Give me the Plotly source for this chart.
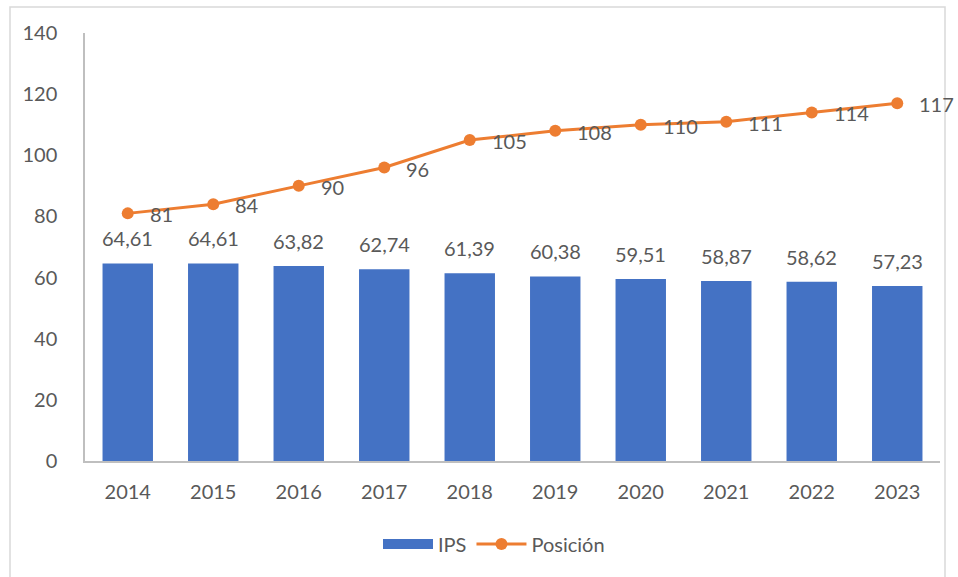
import plotly.graph_objects as go

years = ["2014", "2015", "2016", "2017", "2018", "2019", "2020", "2021", "2022", "2023"]
ips = [64.61, 64.61, 63.82, 62.74, 61.39, 60.38, 59.51, 58.87, 58.62, 57.23]
posicion = [81, 84, 90, 96, 105, 108, 110, 111, 114, 117]
y_ticks = [0, 20, 40, 60, 80, 100, 120, 140]

FONT = "Lato, Open Sans, sans-serif"
GREY = "#595959"
BLUE = "#4472C4"
ORANGE = "#ED7D31"
FS = 20

fig = go.Figure()
fig.add_trace(go.Bar(
    x=years, y=ips, name="IPS", showlegend=False,
    marker=dict(color=BLUE, line=dict(width=0)),
))
# legend proxy giving the wide rectangular swatch for IPS
fig.add_trace(go.Scatter(
    x=[None], y=[None], name="IPS", mode="lines",
    line=dict(color=BLUE, width=12),
))
fig.add_trace(go.Scatter(
    x=years, y=posicion, name="Posición", mode="lines+markers",
    line=dict(color=ORANGE, width=3),
    marker=dict(color=ORANGE, size=12),
    cliponaxis=False,
))

annotations = []
for i, v in enumerate(ips):
    annotations.append(dict(x=i, y=v, xref="x", yref="y",
                            text=f"{v:.2f}".replace(".", ","),
                            showarrow=False, yanchor="middle", xanchor="center",
                            yshift=25, font=dict(size=FS, color=GREY, family=FONT)))
for i, v in enumerate(posicion):
    annotations.append(dict(x=i, y=v, xref="x", yref="y", text=str(v),
                            showarrow=False, yanchor="middle", xanchor="left",
                            xshift=20, yshift=-1,
                            font=dict(size=FS, color=GREY, family=FONT)))

W, H = 958, 577
ml, mr, mt, mb = 85, 18, 33, 116
pw, ph = W - ml - mr, H - mt - mb

def px_x(x):
    return (x - ml) / pw

def px_y(y):
    return (H - mb - y) / ph

fig.update_layout(
    width=W, height=H,
    margin=dict(l=ml, r=mr, t=mt, b=mb),
    paper_bgcolor="white", plot_bgcolor="white",
    bargap=0.41,
    font=dict(family=FONT, color=GREY, size=FS),
    showlegend=True,
    annotations=annotations,
    legend=dict(orientation="h", x=px_x(494), xanchor="center",
                y=px_y(544), yanchor="middle",
                font=dict(size=FS, color=GREY, family=FONT),
                itemwidth=50, traceorder="normal"),
    xaxis=dict(type="category", range=[-0.5, 9.5], showline=True,
               linecolor="#BFBFBF", linewidth=1.5,
               showgrid=False, ticks="", ticklabelstandoff=12,
               tickfont=dict(size=FS, color=GREY)),
    yaxis=dict(range=[0, 140], tickvals=y_ticks, showline=True,
               linecolor="#BFBFBF", linewidth=1.5, showgrid=False,
               zeroline=False, ticks="", ticklabelstandoff=22,
               tickfont=dict(size=FS, color=GREY)),
    shapes=[dict(type="rect", xref="paper", yref="paper",
                 x0=px_x(10), x1=px_x(945), y0=px_y(600), y1=px_y(7),
                 line=dict(color="#D9D9D9", width=1.5), layer="below")],
)

fig.write_html("out.html")
